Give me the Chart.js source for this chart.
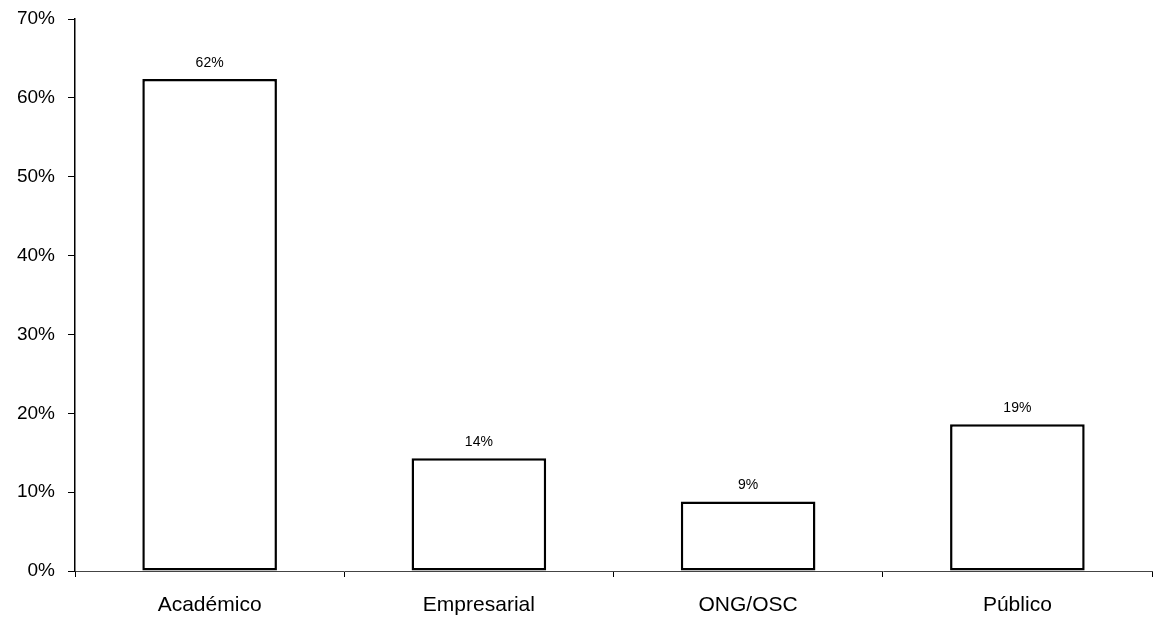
<!DOCTYPE html>
<html>
<head>
<meta charset="utf-8">
<script src="https://cdn.jsdelivr.net/npm/chart.js@4.4.0/dist/chart.umd.min.js"></script>
<style>
  html, body { margin: 0; padding: 0; background: #fff; }
  #wrap { width: 1155px; height: 618px; }
</style>
</head>
<body>
<div id="wrap"><canvas id="grafico"></canvas></div>
<script>
const setores = ['Académico', 'Empresarial', 'ONG/OSC', 'Público'];
const porcentagens = [62.4, 14.3, 8.8, 18.6];
const rotulos = ['62%', '14%', '9%', '19%'];
const ticksY = [0, 10, 20, 30, 40, 50, 60, 70];

const fonte = '"Liberation Sans", Arial, sans-serif';

// escreve o valor por cima de cada barra
const rotulosBarras = {
  id: 'rotulosBarras',
  afterDatasetsDraw(chart) {
    let ctx = chart.ctx;
    let meta = chart.getDatasetMeta(0);
    ctx.save();
    ctx.font = '14px ' + fonte;
    ctx.fillStyle = '#000';
    ctx.textAlign = 'center';
    ctx.textBaseline = 'bottom';
    meta.data.forEach((bar, i) => {
      ctx.fillText(rotulos[i], bar.x, bar.y - 9);
    });
    ctx.restore();
  }
};

new Chart(document.getElementById('grafico'), {
  type: 'bar',
  data: {
    labels: setores,
    datasets: [{
      data: porcentagens,
      backgroundColor: '#fff',
      borderColor: '#000',
      borderWidth: 2.5,
      borderSkipped: false,
      barPercentage: 0.5,
      categoryPercentage: 1
    }]
  },
  options: {
    responsive: true,
    maintainAspectRatio: false,
    animation: false,
    layout: { padding: { top: 19, right: 3, left: 0, bottom: 0 } },
    plugins: {
      legend: { display: false },
      tooltip: { enabled: false }
    },
    scales: {
      x: {
        offset: true,
        grid: { drawOnChartArea: false, offset: true, tickLength: 6, tickColor: '#000' },
        border: { color: '#444', width: 1 },
        ticks: { color: '#000', font: { family: fonte, size: 21 }, padding: 16, maxRotation: 0 },
        afterFit(scale) { scale.height = 47; }
      },
      y: {
        min: 0,
        max: 70,
        afterBuildTicks(scale) { scale.ticks = ticksY.map(v => ({ value: v })); },
        grid: { drawOnChartArea: false, tickLength: 7, tickColor: '#000' },
        border: { color: '#000', width: 1.5 },
        ticks: {
          color: '#000',
          font: { family: fonte, size: 19 },
          padding: 13,
          callback: v => v + '%'
        },
        afterFit(scale) {
          scale.width = 75;
          scale.paddingTop = 0;
          scale.paddingBottom = 0;
        }
      }
    }
  },
  plugins: [rotulosBarras]
});
</script>
</body>
</html>
